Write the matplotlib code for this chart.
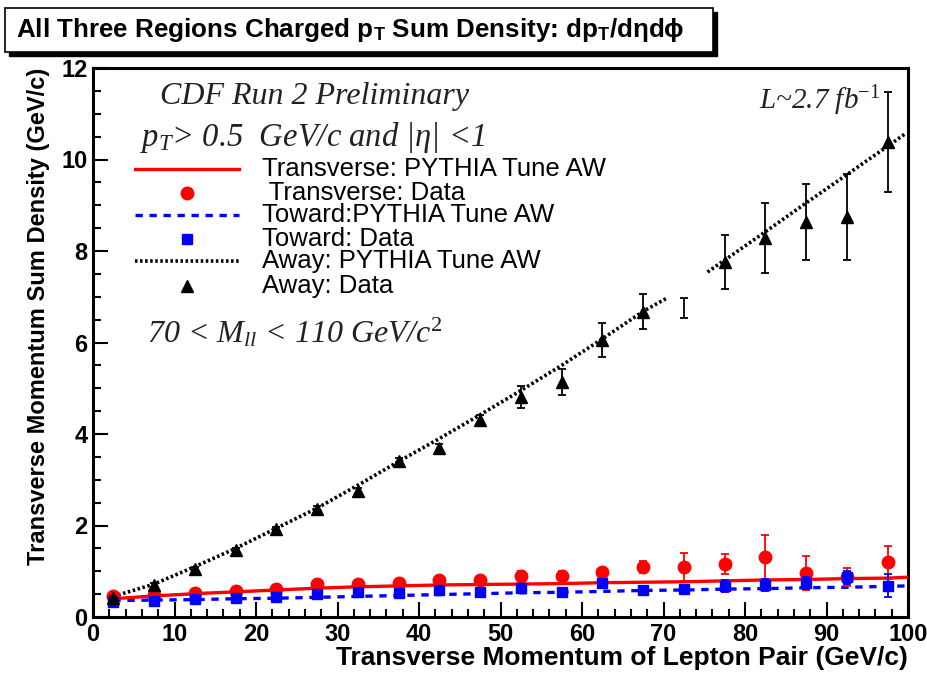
import numpy as np
import matplotlib
matplotlib.use("Agg")
import matplotlib.pyplot as plt
from matplotlib.patches import Rectangle
from matplotlib.ticker import MultipleLocator

plt.rcParams['mathtext.fontset'] = 'custom'
plt.rcParams['mathtext.rm'] = 'Liberation Serif'
plt.rcParams['mathtext.it'] = 'Liberation Serif:italic'
plt.rcParams['mathtext.bf'] = 'Liberation Sans:bold'

# Bin centres of the lepton-pair pT
pt_bins = [2.5, 7.5, 12.5, 17.5, 22.5, 27.5, 32.5, 37.5, 42.5, 47.5,
           52.5, 57.5, 62.5, 67.5, 72.5, 77.5, 82.5, 87.5, 92.5, 97.5]

# Transverse region: data and PYTHIA Tune AW
trans_data = [0.45, 0.48, 0.52, 0.57, 0.61, 0.72, 0.72, 0.74, 0.81, 0.81,
              0.90, 0.90, 0.98, 1.09, 1.09, 1.16, 1.31, 0.96, 0.87, 1.20]
trans_err = [0.02, 0.02, 0.02, 0.02, 0.03, 0.03, 0.03, 0.04, 0.04, 0.05,
             0.10, 0.10, 0.05, 0.13, 0.31, 0.22, 0.49, 0.37, 0.20, 0.36]
model_x = [2.5, 7.5, 12.5, 17.5, 22.5, 27.5, 32.5, 37.5, 42.5, 47.5,
           52.5, 57.5, 62.5, 67.5, 72.5, 77.5, 82.5, 87.5, 92.5, 97.5, 100.0]
trans_model = [0.40, 0.46, 0.51, 0.55, 0.59, 0.63, 0.66, 0.68, 0.70, 0.71,
               0.72, 0.73, 0.75, 0.76, 0.77, 0.79, 0.81, 0.82, 0.84, 0.85, 0.87]

# Toward region
toward_data = [0.33, 0.35, 0.39, 0.42, 0.44, 0.50, 0.55, 0.52, 0.59, 0.55,
               0.63, 0.55, 0.74, 0.59, 0.61, 0.68, 0.70, 0.74, 0.87, 0.68]
toward_err = [0.02, 0.02, 0.02, 0.02, 0.02, 0.02, 0.03, 0.03, 0.03, 0.04,
              0.05, 0.05, 0.06, 0.07, 0.08, 0.13, 0.13, 0.13, 0.14, 0.25]
toward_model = [0.36, 0.37, 0.38, 0.40, 0.41, 0.43, 0.45, 0.47, 0.49, 0.51,
                0.53, 0.54, 0.56, 0.58, 0.59, 0.61, 0.62, 0.64, 0.65, 0.67, 0.68]

# Away region (the 72.5 bin has no marker, only its error bar)
away_data = [0.42, 0.70, 1.05, 1.46, 1.92, 2.36, 2.75, 3.41, 3.69, 4.31,
             4.81, 5.14, 6.05, 6.67, 6.75, 7.76, 8.28, 8.63, 8.74, 10.38]
away_err = [0.03, 0.04, 0.04, 0.05, 0.05, 0.06, 0.06, 0.07, 0.10, 0.10,
            0.24, 0.28, 0.37, 0.38, 0.22, 0.60, 0.76, 0.83, 0.94, 1.09]
away_model_x = [2.5, 7.5, 12.5, 17.5, 22.5, 27.5, 32.5, 37.5, 42.5, 47.5,
                52.5, 57.5, 62.5, 67.5, 70.4, 72.5, 75.4, 77.5, 82.5, 87.5,
                92.5, 97.5, 99.8]
away_model = [0.45, 0.72, 1.10, 1.50, 1.94, 2.38, 2.88, 3.40, 3.90, 4.42,
              4.95, 5.50, 6.08, 6.68, 6.97, np.nan, 7.54, 7.80, 8.42, 9.05,
              9.67, 10.29, 10.58]

legend_labels = ['Transverse: PYTHIA Tune AW', ' Transverse: Data',
                 'Toward:PYTHIA Tune AW', 'Toward: Data',
                 'Away: PYTHIA Tune AW', 'Away: Data']

W, H = 927, 676
fig = plt.figure(figsize=(W / 100, H / 100), dpi=100)
ax = fig.add_axes([93 / W, 1 - 617 / H, (908 - 93) / W, (617 - 68) / H])

tr_line = dict(color='red', lw=2.4)
to_line = dict(color='blue', lw=2.4, linestyle=(0, (2.2, 2.0)))
aw_line = dict(color='black', lw=2.6, linestyle=(0, (0.7, 0.7)))
tr_mark = dict(marker='o', color='red', ms=9)
to_mark = dict(marker='s', color='blue', ms=7.5)
aw_mark = dict(marker='^', color='black', ms=8)
eb = dict(capsize=3, elinewidth=1.3, capthick=1.3)

# model curves
ax.plot(model_x, trans_model, zorder=3, **tr_line)
ax.plot(model_x, toward_model, zorder=2, **to_line)
ax.plot(away_model_x, away_model, zorder=2, **aw_line)

# data points
ax.errorbar(pt_bins, trans_data, yerr=trans_err, ls='none', zorder=4,
            **tr_mark, **eb)
ax.errorbar(pt_bins, toward_data, yerr=toward_err, ls='none', zorder=5,
            **to_mark, **eb)
ax.errorbar(pt_bins, away_data, yerr=away_err, fmt='none', ecolor='black',
            zorder=6, **eb)
away_x = [x for x in pt_bins if x != 72.5]
away_y = [y for x, y in zip(pt_bins, away_data) if x != 72.5]
ax.plot(away_x, away_y, ls='none', zorder=6, **aw_mark)

ax.set_xlim(0, 100)
ax.set_ylim(0, 12)
ax.xaxis.set_major_locator(MultipleLocator(10))
ax.xaxis.set_minor_locator(MultipleLocator(2))
ax.yaxis.set_major_locator(MultipleLocator(2))
ax.yaxis.set_minor_locator(MultipleLocator(0.5))
ax.tick_params(which='both', direction='in', width=1.5, color='black')
ax.tick_params(which='major', length=11, pad=4)
ax.tick_params(which='minor', length=6)
for s in ax.spines.values():
    s.set_linewidth(2.2)

for lab in ax.get_xticklabels() + ax.get_yticklabels():
    lab.set_fontsize(17)
    lab.set_fontfamily('Liberation Sans')
    lab.set_fontweight('bold')

ax.set_xlabel('Transverse Momentum of Lepton Pair (GeV/c)', fontsize=19,
              loc='right', labelpad=0, family='Liberation Sans',
              weight='bold')
ax.set_ylabel('Transverse Momentum Sum Density (GeV/c)', fontsize=17,
              loc='top', labelpad=8, family='Liberation Sans', weight='bold')

# legend drawn by hand in axes coordinates
row_px = [169, 193, 215, 239, 261, 286]
row_y = [(617 - p) / 549 for p in row_px]
styles = [('line', tr_line), ('mark', tr_mark), ('line', to_line),
          ('mark', to_mark), ('line', aw_line), ('mark', aw_mark)]
for y, (kind, st), label in zip(row_y, styles, legend_labels):
    if kind == 'line':
        ax.plot([0.0515, 0.179], [y, y], transform=ax.transAxes,
                clip_on=False, **st)
    else:
        ax.plot([0.115], [y], transform=ax.transAxes, ls='none', **st)
    ax.text(0.207, y, label, transform=ax.transAxes, fontsize=18.5,
            family='Liberation Sans', va='center', ha='left')

# annotations in serif italic
ser = dict(family='Liberation Serif', style='italic', color='#222222')
ax.text(0.082, 0.975, 'CDF Run 2 Preliminary', transform=ax.transAxes,
        fontsize=23, va='top', **ser)
ax.text(0.058, 0.905, r'$p_T$> 0.5  GeV/c and |η| <1',
        transform=ax.transAxes, fontsize=23.5, va='top', **ser)
ax.text(0.066, 0.548, r'70 < $M_{ll}$ < 110 GeV/c$^2$',
        transform=ax.transAxes, fontsize=23, va='top', **ser)
ax.text(0.966, 0.972, r'L~2.7 fb$^{-1}$', transform=ax.transAxes,
        fontsize=21, va='top', ha='right', **ser)

# boxed title with drop shadow
fig.patches.append(Rectangle((9 / W, 1 - 56 / H), 708 / W, 44 / H,
                             transform=fig.transFigure, facecolor='black',
                             edgecolor='black', zorder=1))
fig.patches.append(Rectangle((5 / W, 1 - 52 / H), 708 / W, 44 / H,
                             transform=fig.transFigure, facecolor='white',
                             edgecolor='black', lw=1.2, zorder=2))
fig.text(16 / W, 1 - 30 / H,
         r'All Three Regions Charged p$_\mathbf{T}$ Sum Density: dp$_\mathbf{T}$/dηdϕ',
         fontsize=18.7, fontweight='bold', family='Liberation Sans',
         va='center', ha='left', zorder=3)

fig.savefig('out.png', dpi=100)
